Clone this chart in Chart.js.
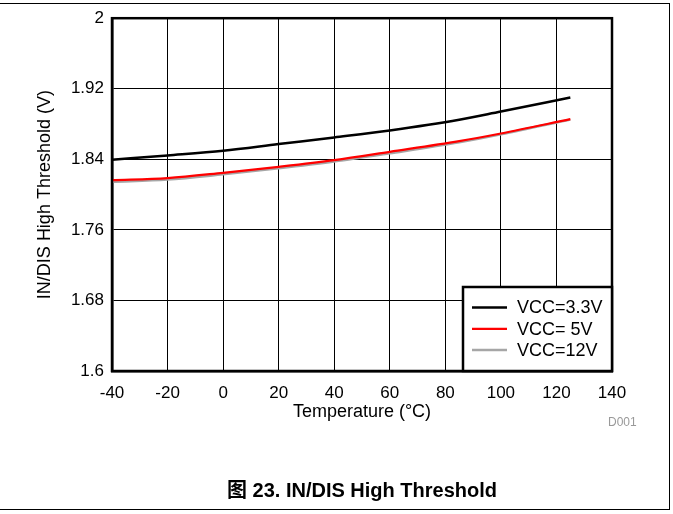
<!DOCTYPE html>
<html>
<head>
<meta charset="utf-8">
<script src="https://cdn.jsdelivr.net/npm/chart.js@4"></script>
<style>
  body { margin: 0; background: #fff; }
  #wrap { position: relative; width: 673px; height: 514px; font-family: "Liberation Sans", Arial, "Noto Sans CJK SC", sans-serif; }
  #frame { position: absolute; left: -2px; top: 3px; width: 672px; height: 507px; border-top: 1.5px solid #000; border-right: 1.5px solid #000; border-bottom: 1.5px solid #000; box-sizing: border-box; pointer-events: none; }
  #caption { position: absolute; left: 0; width: 724px; top: 480px; text-align: center; font-weight: bold; font-size: 20px; line-height: 20px; }
  #code { position: absolute; left: 608px; top: 416px; font-size: 12px; line-height: 12px; color: #999; }
</style>
</head>
<body>
<div id="wrap">
  <canvas id="chart" width="673" height="514" style="width:673px;height:514px"></canvas>
  <div id="frame"></div>
  <div id="code">D001</div>
  <div id="caption">图 23. IN/DIS High Threshold</div>
</div>
<script>
// temperature points (°C)
var temps = [-40, -20, 0, 20, 40, 60, 85, 100, 125];
// threshold values (V)
var vcc33 = [1.8395, 1.8444, 1.8497, 1.8573, 1.8648, 1.8727, 1.8848, 1.8942, 1.910];
var vcc5 = [1.8164, 1.8187, 1.8247, 1.8315, 1.8391, 1.8485, 1.8606, 1.8693, 1.8855];
var vcc12 = [1.8145, 1.8170, 1.8230, 1.8298, 1.8375, 1.8468, 1.8592, 1.8683, 1.8850];
var seriesNames = ['VCC=3.3V', 'VCC= 5V', 'VCC=12V'];
var xTicks = [-40, -20, 0, 20, 40, 60, 80, 100, 120, 140];
var yTicks = [1.6, 1.68, 1.76, 1.84, 1.92, 2];

function toPoints(arr) {
    return arr.map(function(v, i) { return { x: temps[i], y: v }; });
}

// frame round plot area + legend box inside it
var framePlugin = {
    id: 'framePlugin',
    afterDatasetsDraw: function(chart) {
        var ctx = chart.ctx;
        var a = chart.chartArea;
        ctx.save();
        ctx.strokeStyle = '#000';
        ctx.lineWidth = 2.5;
        ctx.strokeRect(a.left, a.top, a.right - a.left, a.bottom - a.top);

        // legend
        var bx = 463, by = 287;
        var bw = a.right - bx, bh = a.bottom - by;
        ctx.fillStyle = '#fff';
        ctx.fillRect(bx, by, bw, bh);
        ctx.strokeRect(bx, by, bw, bh);
        ctx.font = '18px "Liberation Sans", Arial, sans-serif';
        ctx.textBaseline = 'middle';
        ctx.textAlign = 'left';
        chart.data.datasets.forEach(function(ds, i) {
            var y = 307.5 + i * 21.3;
            ctx.strokeStyle = ds.borderColor;
            ctx.lineWidth = ds.borderWidth;
            ctx.beginPath();
            ctx.moveTo(472, y);
            ctx.lineTo(507, y);
            ctx.stroke();
            ctx.fillStyle = '#000';
            ctx.fillText(ds.label, 517, y + 1);
        });
        ctx.restore();
    }
};

var ctx = document.getElementById('chart').getContext('2d');
var chart = new Chart(ctx, {
    type: 'line',
    data: {
        datasets: [{
            label: seriesNames[0],
            data: toPoints(vcc33),
            borderColor: '#000000',
            borderWidth: 2.5
        }, {
            label: seriesNames[1],
            data: toPoints(vcc5),
            borderColor: '#ff0000',
            borderWidth: 2.2
        }, {
            label: seriesNames[2],
            data: toPoints(vcc12),
            borderColor: '#a6a6a6',
            borderWidth: 2.5
        }]
    },
    options: {
        responsive: false,
        animation: false,
        devicePixelRatio: 1,
        layout: { padding: { left: 20, top: 18, right: 61, bottom: 90 } },
        elements: {
            point: { radius: 0 },
            line: { tension: 0.3, cubicInterpolationMode: 'monotone', fill: false }
        },
        scales: {
            x: {
                type: 'linear',
                min: -40,
                max: 140,
                afterBuildTicks: function(scale) {
                    scale.ticks = xTicks.map(function(v) { return { value: v }; });
                },
                afterFit: function(scale) { scale.height = 53; },
                grid: { color: '#000', lineWidth: 1, drawTicks: false },
                border: { display: true, color: '#000', width: 2.5 },
                ticks: {
                    color: '#000',
                    padding: 12,
                    font: { family: '"Liberation Sans", Arial, sans-serif', size: 17 }
                },
                title: {
                    display: true,
                    text: 'Temperature (°C)',
                    color: '#000',
                    padding: { top: 0, bottom: 1 },
                    font: { family: '"Liberation Sans", Arial, sans-serif', size: 18 }
                }
            },
            y: {
                type: 'linear',
                min: 1.6,
                max: 2,
                afterBuildTicks: function(scale) {
                    scale.ticks = yTicks.map(function(v) { return { value: v }; });
                },
                afterFit: function(scale) { scale.width = 92; },
                grid: { color: '#000', lineWidth: 1, drawTicks: false },
                border: { display: true, color: '#000', width: 2.5 },
                ticks: {
                    color: '#000',
                    padding: 8,
                    font: { family: '"Liberation Sans", Arial, sans-serif', size: 17 },
                    callback: function(v) { return String(parseFloat(v.toFixed(2))); }
                },
                title: {
                    display: true,
                    text: 'IN/DIS High Threshold (V)',
                    color: '#000',
                    padding: { top: 14, bottom: 0 },
                    font: { family: '"Liberation Sans", Arial, sans-serif', size: 18 }
                }
            }
        },
        plugins: {
            legend: { display: false },
            tooltip: { enabled: false }
        }
    },
    plugins: [framePlugin]
});
</script>
</body>
</html>
